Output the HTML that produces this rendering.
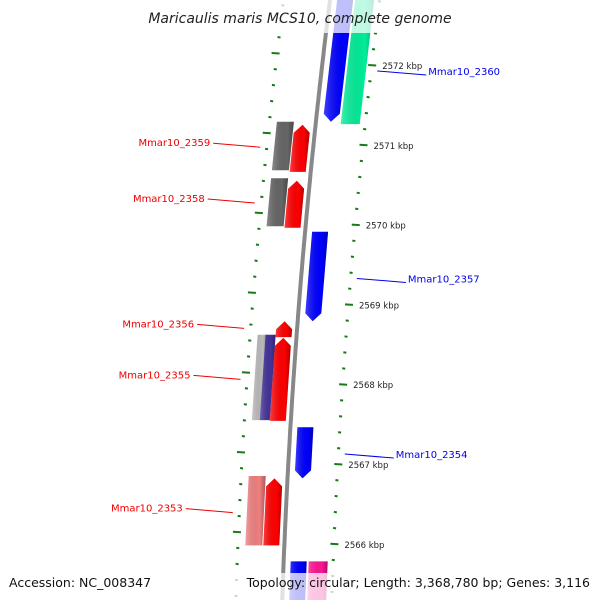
<!DOCTYPE html>
<html><head><meta charset="utf-8"><style>
body{margin:0;background:#fff;overflow:hidden}
svg{display:block;font-family:"DejaVu Sans","Liberation Sans",sans-serif}
</style></head><body>
<svg id="map" width="600" height="600" viewBox="0 0 600 600" xmlns="http://www.w3.org/2000/svg">
<defs>
<linearGradient id="sh" x1="0" x2="1" y1="0" y2="0">
<stop offset="0" stop-color="#fff" stop-opacity="0.25"/><stop offset="0.7" stop-color="#000" stop-opacity="0"/><stop offset="1" stop-color="#000" stop-opacity="0.3"/>
</linearGradient>
<clipPath id="frame"><rect x="0" y="0" width="600" height="600"/></clipPath>
</defs>
<g clip-path="url(#frame)">
<g id="ticks"></g>
<path id="backbone" fill="none" stroke="#888" stroke-width="4"/>
<g id="genes"></g>
<g id="labels"></g>
<rect x="0" y="0" width="600" height="33" fill="#fff" opacity="0.75"/>
<rect x="0" y="573" width="600" height="27" fill="#fff" opacity="0.75"/>
<text x="300" y="23" text-anchor="middle" font-size="14" font-style="italic" fill="#222">Maricaulis maris MCS10, complete genome</text>
<text x="9" y="587" font-size="12.5" fill="#111">Accession: NC_008347</text>
<text x="590" y="587" text-anchor="end" font-size="12.5" fill="#111">Topology: circular; Length: 3,368,780 bp; Genes: 3,116</text>
</g>
</svg>
<script>
// data
const tickKbp = [2572, 2571, 2570, 2569, 2568, 2567, 2566];
const geneNames = ["g-blue-top","g-green-top","g-gray1","g-red1","g-gray2","g-red2","g-blue-mid","g-red-small","g-red-big","g-lightgray","g-purple","g-blue-low","g-pink","g-red-low","g-blue-bot","g-magenta-bot"];
const geneStart = [2572.94,2572.94,2571.29,2571.25,2570.58,2570.55,2569.91,2568.79,2568.58,2568.62,2568.62,2567.46,2566.85,2566.82,2565.78,2565.78];
const geneEnd   = [2571.29,2571.26,2570.68,2570.66,2569.98,2569.96,2568.79,2568.59,2567.54,2567.55,2567.55,2566.82,2565.98,2565.98,2565.25,2565.25];
const geneArrow = ["down","none","none","up","none","up","down","up","up","none","none","down","none","up","none","none"];
const geneColor = ["#0000ff","#00ee99","#666666","#ff0000","#666666","#ff0000","#0000ff","#ff0000","#ff0000","#bbbbbb","#443399","#0000ff","#f08080","#ff0000","#0000ff","#ff1493"];
const geneTrack = [1,2,-2,-1,-2,-1,1,-1,-1,-3,-4,1,-2,-1,1,2];
const labelNames = ["Mmar10_2360","Mmar10_2359","Mmar10_2358","Mmar10_2357","Mmar10_2356","Mmar10_2355","Mmar10_2354","Mmar10_2353"];
const labelKbp = [2571.9,2570.97,2570.27,2569.3,2568.7,2568.06,2567.1,2566.39];
const labelSide = [1,-1,-1,1,-1,-1,1,-1];

const NS="http://www.w3.org/2000/svg";
const yOf = k => 65 + (2572 - k) * 79.8;
const xb = y => 330 - 0.125*y + 0.0000757*y*y;
const trackOff = {1:[7,23],2:[25,44],"-1":[-21,-5],"-2":[-39,-22],"-3":[-39,-29],"-4":[-31,-21]};
function mk(tag, attrs, parent){const e=document.createElementNS(NS,tag);for(const k in attrs)e.setAttribute(k,attrs[k]);parent.appendChild(e);return e;}

// backbone
let d="";for(let y=0;y<=600;y+=5){d+=(y===0?"M":"L")+xb(y).toFixed(1)+" "+y+" ";}
document.getElementById("backbone").setAttribute("d",d);

// ticks
const tg=document.getElementById("ticks");
for(let k=2572.8;k>=2565.2;k-=0.2){
  const kk=Math.round(k*10)/10;
  const major=Math.abs(kk-Math.round(kk))<0.01;
  const yr=yOf(kk), yl=yr-12;
  if(yr<598){
  const r=mk("line",{x1:xb(yr)+(major?46:48),x2:xb(yr)+(major?54:51),y1:yr,y2:yr+0.5,stroke:"#1a7a1a","stroke-width":2},tg);
  
  
  }
  if(yl<598){
  const l=mk("line",{x1:xb(yl)-(major?52:48),x2:xb(yl)-(major?44:45),y1:yl,y2:yl+0.5,stroke:"#1a7a1a","stroke-width":2},tg);
  
  
  }
}
tickKbp.forEach(k=>{
  const y=yOf(k);
  const t=mk("text",{x:xb(y)+60,y:y+4,"font-size":8.5,fill:"#222"},tg);
  t.textContent=k+" kbp";
  
  
});

// genes
const gg=document.getElementById("genes");
geneNames.forEach((n,i)=>{
  const y1=yOf(geneStart[i]), y2=yOf(geneEnd[i]);
  const [o1,o2]=trackOff[geneTrack[i]];
  const a=xb(y1), b=xb(y2), tip=8;
  let pts;
  if(geneArrow[i]==="down"){
    const ys=y2-tip, c=xb(ys);
    pts=[[a+o1,y1],[a+o2,y1],[c+o2,ys],[b+(o1+o2)/2,y2],[c+o1,ys]];
  }else if(geneArrow[i]==="up"){
    const ys=y1+tip, c=xb(ys);
    pts=[[a+(o1+o2)/2,y1],[c+o2,ys],[b+o2,y2],[b+o1,y2],[c+o1,ys]];
  }else{
    pts=[[a+o1,y1],[a+o2,y1],[b+o2,y2],[b+o1,y2]];
  }
  const s=pts.map(p=>p[0].toFixed(1)+","+p[1].toFixed(1)).join(" ");
  const p=mk("polygon",{points:s,fill:geneColor[i]},gg);
  
  
  const q=mk("polygon",{points:s,fill:"url(#sh)"},gg);
  
  
});

// labels
const lg=document.getElementById("labels");
labelNames.forEach((n,i)=>{
  const y=yOf(labelKbp[i]);
  const col=labelSide[i]>0?"#0000ee":"#ee0000";
  let x1,x2,tx,anchor;
  if(labelSide[i]>0){x1=xb(y)+56;x2=x1+49;tx=x2+2;anchor="start";}
  else{x2=xb(y)-53;x1=x2-47;tx=x1-3;anchor="end";}
  const ln=mk("line",{x1:x1,y1:labelSide[i]>0?y-2:y-4,x2:x2,y2:labelSide[i]>0?y+2:y,stroke:col,"stroke-width":1},lg);
  
  
  const t=mk("text",{x:tx,y:y-(labelSide[i]>0?-2:1),"font-size":10,fill:col,"text-anchor":anchor},lg);
  t.textContent=n;
  
  
});
</script>
</body></html>
